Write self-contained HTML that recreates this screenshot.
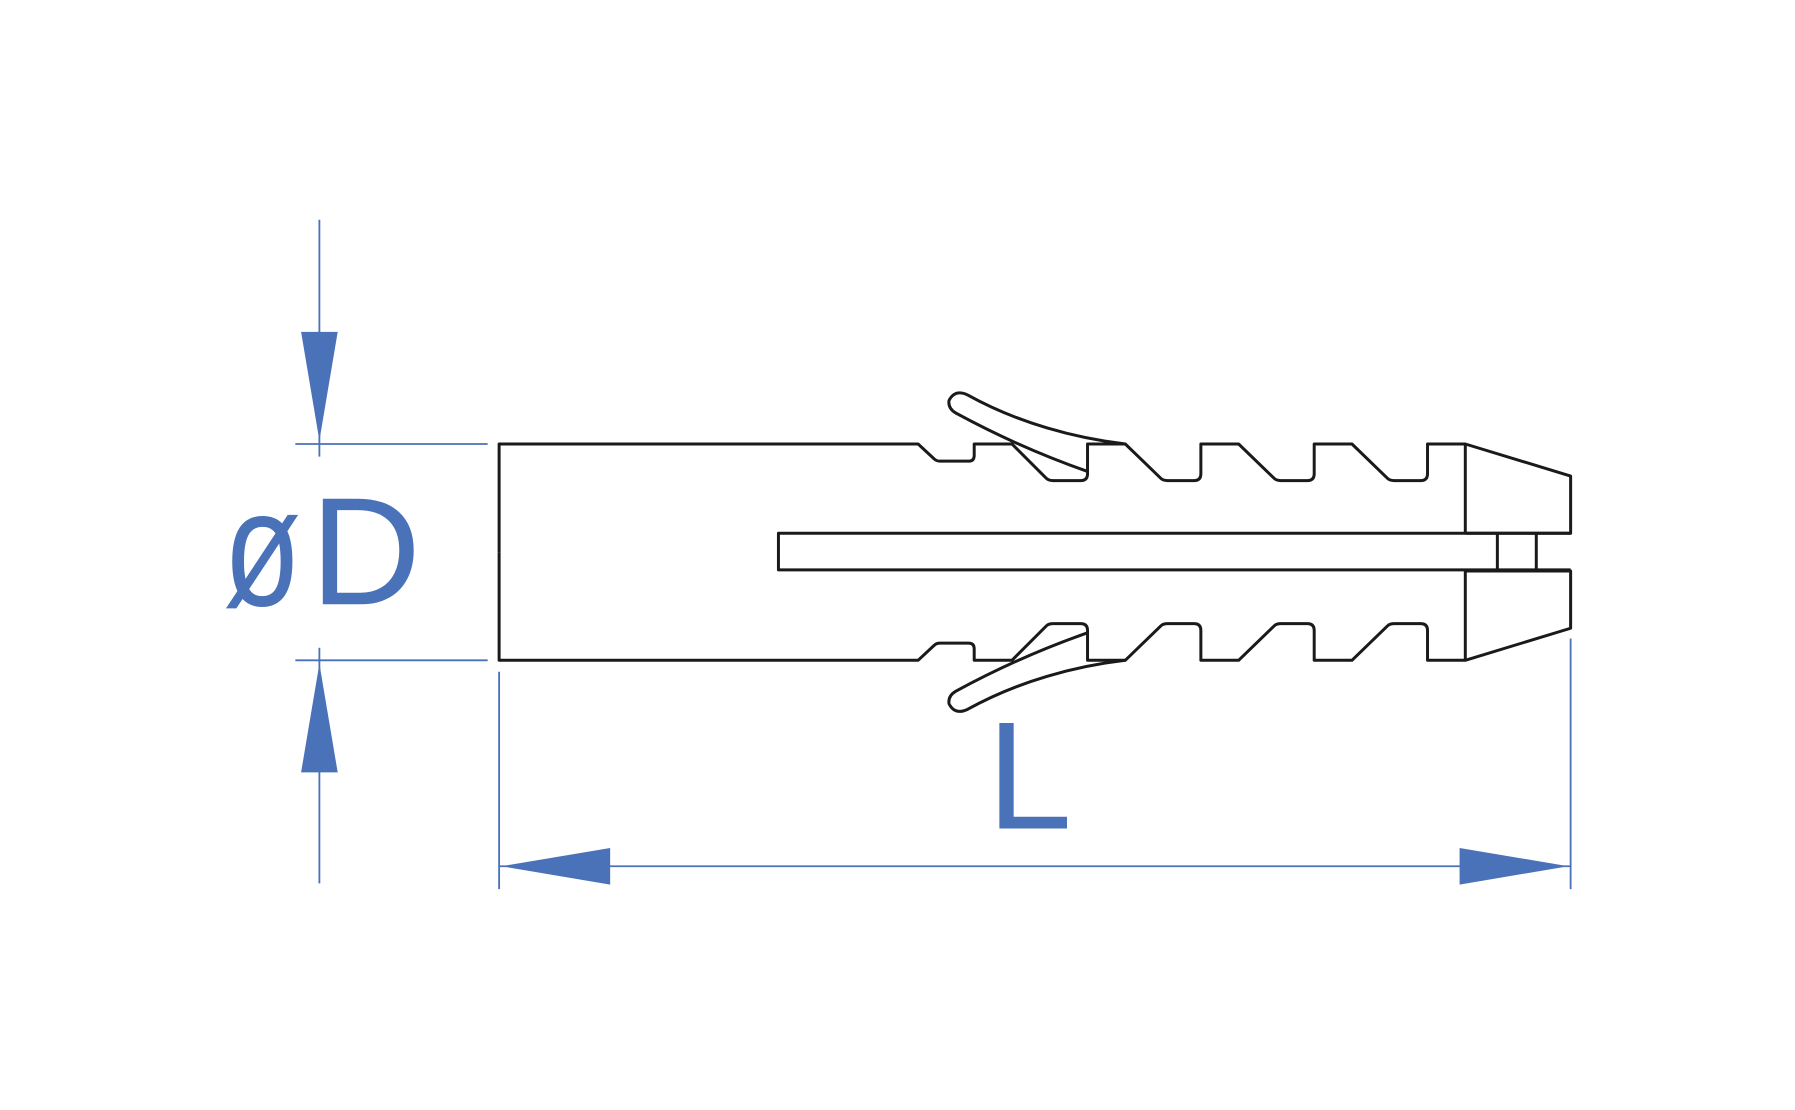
<!DOCTYPE html>
<html><head><meta charset="utf-8"><style>html,body{margin:0;padding:0;background:#fff}svg{display:block}</style></head>
<body>
<svg width="1795" height="1110" viewBox="0 0 1568 970" preserveAspectRatio="none" xmlns="http://www.w3.org/2000/svg">
<rect width="1568" height="970" fill="#fff"/>
<g fill="none" stroke="#1a1a1a" stroke-width="2.6" stroke-linejoin="round">
<g id="half">
<path d="M436,482.5 L436,388 L802,388 L816,401 Q818,403 821,403 L846,403 Q851,403 851,398 L851,388 L884,388 L914,418 Q916,420 920,420 L944,420 Q950,420 950,414 L950,388 L983,388 L1014,418 Q1016,420 1020,420 L1043,420 Q1049,420 1049,414 L1049,388 L1082,388 L1113,418 Q1115,420 1119,420 L1142,420 Q1148,420 1148,414 L1148,388 L1181,388 L1212,418 Q1214,420 1218,420 L1241,420 Q1247,420 1247,414 L1247,388 L1280,388 L1372,416 L1372,466 L1280,466"/>
<path d="M1280,388 L1280,466"/>
<path d="M983,388 C940,383 890,370 845,345 Q834,340 829,350 Q828,357 835,361 C870,380 910,398 950,412"/>
</g>
<use href="#half" transform="matrix(1 0 0 -1 0 965)"/>
<path d="M1372,466 L680,466 L680,498 L1372,498"/>
<path d="M1308,466 L1308,498 M1342,466 L1342,498"/>
</g>
<g stroke="#4a72b8" stroke-width="1.6" fill="none">
<path d="M279,192 L279,399 M279,566 L279,772 M258,388 L426,388 M258,577 L426,577 M436,587 L436,777 M1372,558 L1372,777 M436,757 L1372,757"/>
</g>
<g fill="#4a72b8">
<polygon points="263,290 295,290 279,385"/>
<polygon points="279,580 263,675 295,675"/>
<polygon points="438,757 533,741 533,773"/>
<polygon points="1370,757 1275,741 1275,773"/>
<text x="195" y="529" font-family="Liberation Sans, sans-serif" font-size="145" textLength="68" lengthAdjust="spacingAndGlyphs">ø</text>
<text x="271" y="528" font-family="Liberation Sans, sans-serif" font-size="134">D</text>
<text x="862" y="724" font-family="Liberation Sans, sans-serif" font-size="134">L</text>
</g>
</svg>
</body></html>
